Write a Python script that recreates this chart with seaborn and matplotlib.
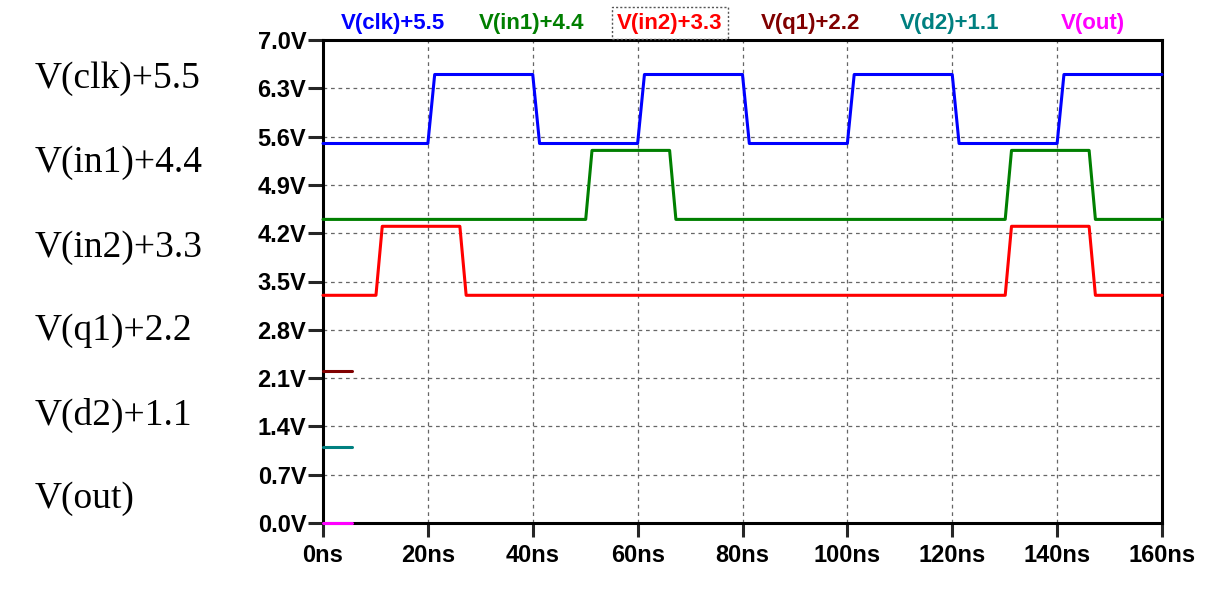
import matplotlib
matplotlib.use("Agg")
import matplotlib.pyplot as plt
import seaborn as sns
import pandas as pd

# ---- data ----
clk_t = [0, 20.0, 21.3, 40.0, 41.3, 60.0, 61.3, 80.0, 81.3, 100.0, 101.3, 120.0, 121.3, 140.0, 141.3, 160]
clk_v = [5.5, 5.5, 6.5, 6.5, 5.5, 5.5, 6.5, 6.5, 5.5, 5.5, 6.5, 6.5, 5.5, 5.5, 6.5, 6.5]

in1_t = [0, 50.1, 51.3, 66.1, 67.3, 130.1, 131.3, 146.1, 147.3, 160]
in1_v = [4.4, 4.4, 5.4, 5.4, 4.4, 4.4, 5.4, 5.4, 4.4, 4.4]

in2_t = [0, 10.1, 11.3, 26.1, 27.3, 130.1, 131.3, 146.1, 147.3, 160]
in2_v = [3.3, 3.3, 4.3, 4.3, 3.3, 3.3, 4.3, 4.3, 3.3, 3.3]

q1_t = [0, 5.5]
q1_v = [2.2, 2.2]
d2_t = [0, 5.5]
d2_v = [1.1, 1.1]
out_t = [0, 5.5]
out_v = [0.0, 0.0]

trace_names = ["V(clk)+5.5", "V(in1)+4.4", "V(in2)+3.3", "V(q1)+2.2", "V(d2)+1.1", "V(out)"]
trace_colors = ["#0000ff", "#007f00", "#ff0000", "#800000", "#008080", "#ff00ff"]

y_ticks = [0.0, 0.7, 1.4, 2.1, 2.8, 3.5, 4.2, 4.9, 5.6, 6.3, 7.0]
y_tick_labels = ["0.0V", "0.7V", "1.4V", "2.1V", "2.8V", "3.5V", "4.2V", "4.9V", "5.6V", "6.3V", "7.0V"]
x_ticks = [0, 20, 40, 60, 80, 100, 120, 140, 160]
x_tick_labels = ["0ns", "20ns", "40ns", "60ns", "80ns", "100ns", "120ns", "140ns", "160ns"]

series = [(clk_t, clk_v), (in1_t, in1_v), (in2_t, in2_v), (q1_t, q1_v), (d2_t, d2_v), (out_t, out_v)]
frames = []
for name, (t, v) in zip(trace_names, series):
    frames.append(pd.DataFrame({"t": t, "v": v, "trace": name}))
df = pd.concat(frames, ignore_index=True)

# ---- style ----
sns.set_style("white")
plt.rcParams["font.family"] = ["Liberation Sans", "DejaVu Sans"]

W, H = 1224, 589
fig = plt.figure(figsize=(W / 100, H / 100), dpi=100)
ax = fig.add_axes([323 / W, 1 - 523 / H, (1162 - 323) / W, (523 - 40) / H])

sns.lineplot(data=df, x="t", y="v", hue="trace", hue_order=trace_names,
             palette=trace_colors, estimator=None, sort=False, units="trace",
             linewidth=2.2, legend=False, ax=ax)
for ln in ax.get_lines():
    ln.set_clip_on(False)
    ln.set_zorder(5)

ax.set_xlim(0, 160)
ax.set_ylim(0, 7.0)
ax.set_xticks(x_ticks)
ax.set_xticklabels(x_tick_labels)
ax.set_yticks(y_ticks)
ax.set_yticklabels(y_tick_labels)
ax.set_xlabel("")
ax.set_ylabel("")

for lab in ax.get_xticklabels() + ax.get_yticklabels():
    lab.set_fontweight("bold")
    lab.set_fontsize(17)
    lab.set_color("black")

ax.tick_params(axis="y", direction="out", length=11, width=2.2, pad=1, left=True)
ax.tick_params(axis="x", direction="out", length=10, width=2.2, pad=5, bottom=True)

ax.grid(True, linestyle=(0, (3, 3)), color="#666666", linewidth=0.9, zorder=0)
for s in ax.spines.values():
    s.set_visible(True)
    s.set_linewidth(2.2)
    s.set_color("black")

# top legend (trace names)
legend_x = [393, 532, 670, 811, 950, 1093]
for i, (name, col) in enumerate(zip(trace_names, trace_colors)):
    kw = {}
    if i == 2:
        kw["bbox"] = dict(boxstyle="square,pad=0.25", facecolor="none",
                          edgecolor="#555555", linestyle=(0, (1.5, 1.5)), linewidth=1)
    fig.text(legend_x[i] / W, 1 - 23 / H, name, color=col, fontsize=16,
             fontweight="bold", ha="center", va="center", **kw)

# left serif labels
label_y = [79, 163, 248, 331, 415, 499]
for name, yy in zip(trace_names, label_y):
    fig.text(35 / W, 1 - yy / H, name, fontsize=27, family=["Liberation Serif", "DejaVu Serif"],
             ha="left", va="center", color="black")

fig.savefig("out.png", dpi=100)
